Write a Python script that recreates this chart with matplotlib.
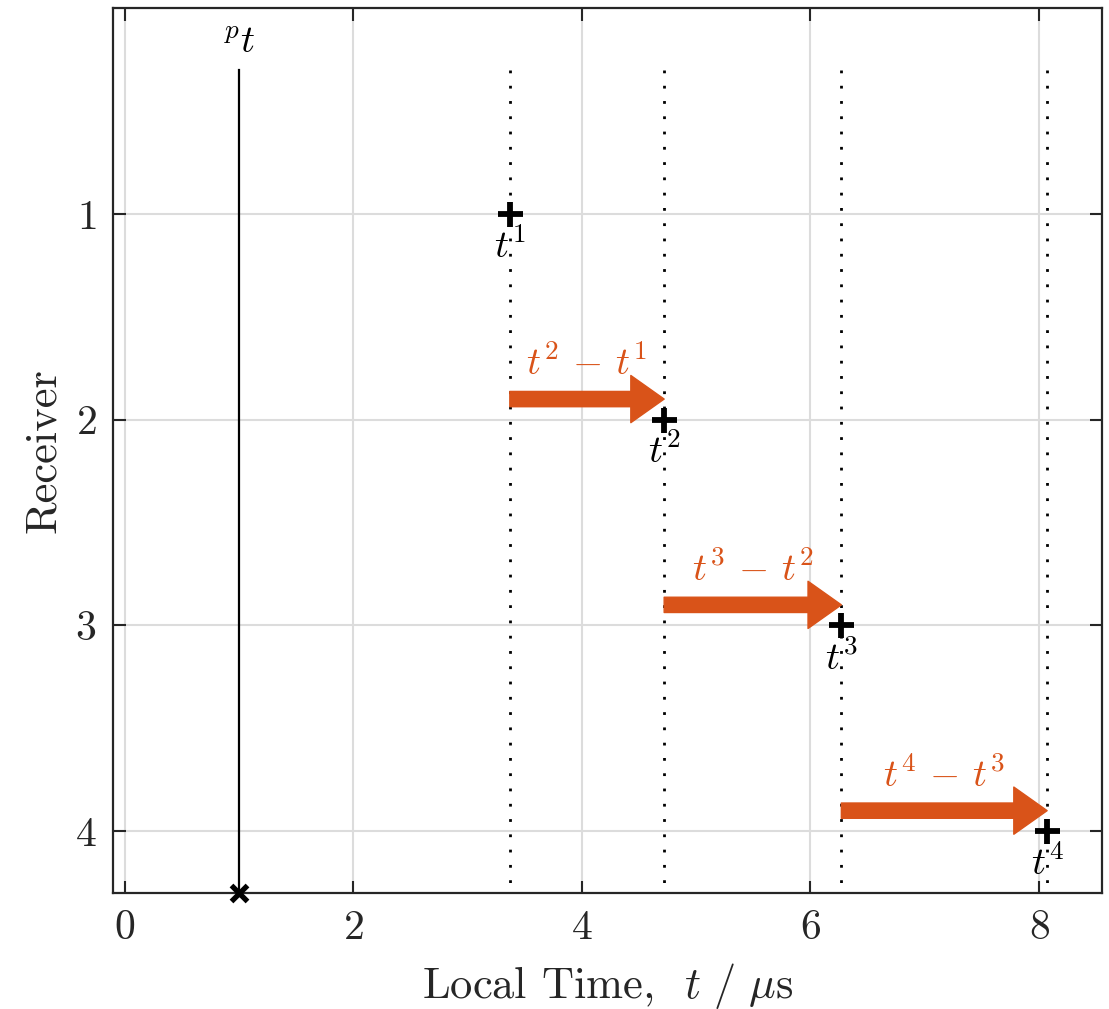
import matplotlib
matplotlib.use("Agg")
import matplotlib.pyplot as plt

receivers = [1, 2, 3, 4]
toa = [3.37, 4.72, 6.27, 8.07]
pt = 1.0
toa_labels = [r"$t^1$", r"$t^2$", r"$t^3$", r"$t^4$"]
diff_labels = [r"$t^2\,-\,t^1$", r"$t^3\,-\,t^2$", r"$t^4\,-\,t^3$"]
xticks = [0, 2, 4, 6, 8]

ORANGE = "#D95319"
AXC = "#262626"

plt.rcParams["font.family"] = "cmr10"
plt.rcParams["mathtext.fontset"] = "cm"
plt.rcParams["axes.formatter.use_mathtext"] = True

fig = plt.figure(figsize=(11.09, 10.09), dpi=100)
ax = fig.add_axes([0.102, 0.115, 0.8917, 0.877])

ylo, yhi = 4.3, 0.0
top = 0.3

# pt line, x marker sits on the bottom axis
ax.plot([pt, pt], [top, ylo], color="black", lw=1.6, zorder=3)
ax.plot(pt, ylo, marker="x", color="black", ms=12, mew=3.8, clip_on=False, zorder=5)
ax.text(pt, 0.17, r"$^{p}t$", ha="center", va="center", fontsize=28)

for i, (t, r) in enumerate(zip(toa, receivers)):
    ax.plot([t, t], [top, ylo], color="black", lw=2.0, linestyle=(0, (1, 4.5)), zorder=3)
    ax.plot(t, r, marker="+", color="black", ms=18, mew=4.2, zorder=5)
    ax.text(t, r + 0.16, toa_labels[i], ha="center", va="center", fontsize=28)

for i in range(len(toa) - 1):
    y = receivers[i + 1] - 0.1
    ax.annotate("", xy=(toa[i + 1], y), xytext=(toa[i], y),
                arrowprops=dict(arrowstyle="simple,head_width=3.4,head_length=2.4,tail_width=1.1",
                                mutation_scale=10, color=ORANGE, shrinkA=0, shrinkB=0),
                zorder=4)
    ax.text((toa[i] + toa[i + 1]) / 2, y - 0.17, diff_labels[i], color=ORANGE,
            ha="center", va="center", fontsize=28)

ax.set_xlim(-0.1, 8.55)
ax.set_ylim(ylo, yhi)
ax.set_xticks(xticks)
ax.set_yticks(receivers)
ax.grid(True, color="#dcdcdc", lw=1.5, zorder=0)
ax.set_axisbelow(True)
ax.tick_params(direction="in", length=9, width=1.5, top=True, right=True,
               colors=AXC, labelsize=30, pad=12)
for s in ax.spines.values():
    s.set_color(AXC)
    s.set_linewidth(1.6)

ax.set_xlabel(r"Local Time,  $t\ /\ \mu\mathrm{s}$", fontsize=32, color=AXC, labelpad=10)
ax.set_ylabel("Receiver", fontsize=32, color=AXC, labelpad=8)

fig.savefig("out.png", dpi=100)
